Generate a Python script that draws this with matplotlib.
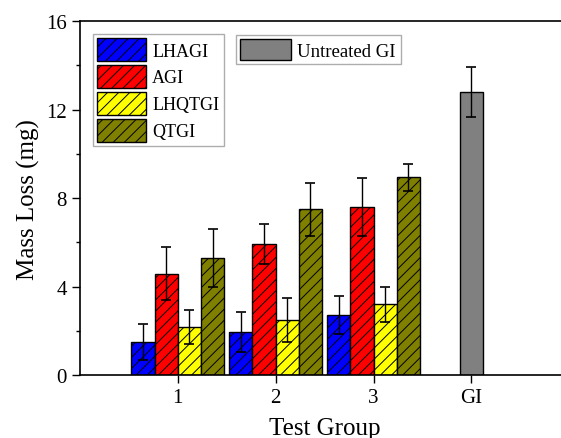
import numpy as np
import matplotlib.pyplot as plt

# Datos
grupos = [1, 2, 3]
series = ["LHAGI", "AGI", "LHQTGI", "QTGI"]
colores = ["#0000ff", "#ff0000", "#ffff00", "#808000"]
valores = [
    [1.5, 1.96, 2.71],
    [4.57, 5.91, 7.6],
    [2.17, 2.5, 3.2],
    [5.28, 7.5, 8.94],
]
errores = [
    [0.8, 0.9, 0.85],
    [1.2, 0.9, 1.3],
    [0.75, 1.0, 0.8],
    [1.3, 1.2, 0.6],
]
gi_valor = 12.8
gi_error = 1.15
etiquetas_x = ["1", "2", "3", "GI"]

plt.rcParams['font.family'] = ['Liberation Serif', 'DejaVu Serif']
plt.rcParams['hatch.linewidth'] = 0.7

fig = plt.figure(figsize=(5.61, 4.39), dpi=100)
ax = fig.add_axes([0.1426, 0.1435, 0.872, 0.806])

w = 0.237
offsets = np.array([-1.5, -0.5, 0.5, 1.5]) * w
x = np.array(grupos, dtype=float)
barras = []
for i, nombre in enumerate(series):
    b = ax.bar(x + offsets[i], valores[i], w, color=colores[i], edgecolor='black',
               linewidth=1.0, hatch='///', label=nombre,
               yerr=errores[i], capsize=3.5,
               error_kw=dict(elinewidth=1.0, capthick=1.2, ecolor='black'))
    barras.append(b)

bgi = ax.bar([4], [gi_valor], w, color='#808080', edgecolor='black', linewidth=1.0,
             label='Untreated GI', yerr=[gi_error], capsize=3.5,
             error_kw=dict(elinewidth=1.0, capthick=1.2, ecolor='black'))

ax.set_xlim(0, 5)
ax.set_ylim(0, 16)
ax.set_xticks([1, 2, 3, 4])
ax.set_xticklabels(etiquetas_x)
ax.set_yticks([0, 4, 8, 12, 16])
ax.set_yticks([2, 6, 10, 14], minor=True)
ax.tick_params(axis='both', which='major', direction='out', length=6, width=1, labelsize=15)
ax.tick_params(axis='y', which='minor', direction='out', length=3, width=1)
ax.spines['right'].set_visible(False)
for s in ['left', 'bottom', 'top']:
    ax.spines[s].set_linewidth(1.2)

ax.set_xlabel('Test Group', fontsize=18, labelpad=7)
ax.set_ylabel('Mass Loss (mg)', fontsize=18, labelpad=4)

leg1 = ax.legend(handles=barras, loc='upper left', bbox_to_anchor=(0.026, 0.965),
                 fontsize=13, frameon=True, fancybox=False, edgecolor='#999999',
                 handlelength=2.7, handleheight=1.6, handletextpad=0.35,
                 labelspacing=0.2, borderpad=0.25, borderaxespad=0)
leg1.get_frame().set_linewidth(1.0)
ax.add_artist(leg1)
leg2 = ax.legend(handles=[bgi], loc='upper left', bbox_to_anchor=(0.318, 0.962),
                 fontsize=13.5, frameon=True, fancybox=False, edgecolor='#999999',
                 handlelength=2.7, handleheight=1.3, handletextpad=0.35,
                 borderpad=0.25, borderaxespad=0)
leg2.get_frame().set_linewidth(1.0)

fig.savefig('out.png', dpi=100)
